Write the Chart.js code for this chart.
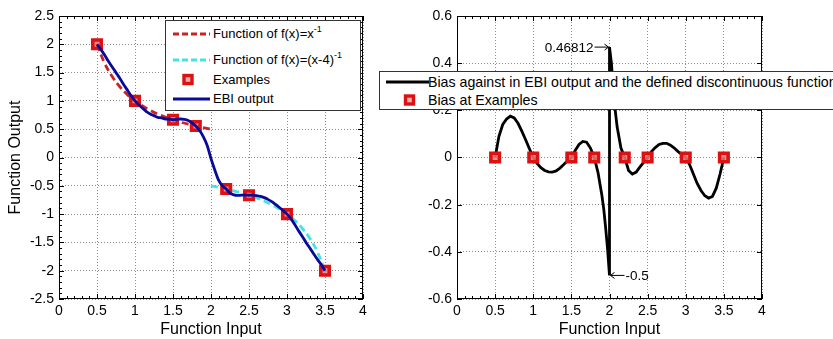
<!DOCTYPE html>
<html>
<head>
<meta charset="utf-8">
<script src="https://cdn.jsdelivr.net/npm/chart.js@4.4.0/dist/chart.umd.min.js"></script>
<style>
body { margin: 0; background: #fff; font-family: "Liberation Sans", Arial, sans-serif; }
#wrap { position: relative; width: 833px; height: 339px; overflow: hidden; }
#wrap canvas { position: absolute; top: 0; }
.legend { position: absolute; background: #fff; border: 1px solid #333; font-size: 13px; color: #000; z-index: 5; box-sizing: border-box; }
.row { position: absolute; left: 0; height: 18px; line-height: 18px; white-space: nowrap; }
.row svg { position: absolute; top: 0; }
.row span { position: absolute; top: 0; }
sup { font-size: 9px; vertical-align: 6px; line-height: 0; }
</style>
</head>
<body>
<div id="wrap">
  <canvas id="leftChart" width="413" height="339" style="left:0;width:413px;height:339px"></canvas>
  <canvas id="rightChart" width="420" height="339" style="left:413px;width:420px;height:339px"></canvas>

  <div class="legend" style="left:165px;top:20px;width:196px;height:91px">
    <div class="row" style="top:4px">
      <svg width="40" height="18" style="left:6px"><line x1="1" y1="9" x2="38" y2="9" stroke="#cc2222" stroke-width="3" stroke-dasharray="6,3"/></svg>
      <span style="left:47px">Function of f(x)=x<sup>-1</sup></span>
    </div>
    <div class="row" style="top:30px">
      <svg width="40" height="18" style="left:6px"><line x1="1" y1="9" x2="38" y2="9" stroke="#44e4e4" stroke-width="3" stroke-dasharray="6,3"/></svg>
      <span style="left:47px">Function of f(x)=(x-4)<sup>-1</sup></span>
    </div>
    <div class="row" style="top:50px">
      <svg width="40" height="18" style="left:6px"><rect x="12" y="4.5" width="8" height="8" fill="#f7b0b0" stroke="#dd1111" stroke-width="3.4"/></svg>
      <span style="left:47px">Examples</span>
    </div>
    <div class="row" style="top:69px">
      <svg width="40" height="18" style="left:6px"><line x1="1" y1="9" x2="38" y2="9" stroke="#0a0a9a" stroke-width="3"/></svg>
      <span style="left:47px">EBI output</span>
    </div>
  </div>

  <div class="legend" style="left:379px;top:71px;width:480px;height:39px;font-size:14.2px">
    <div class="row" style="top:1px">
      <svg width="46" height="18" style="left:5px"><line x1="1" y1="9" x2="44" y2="9" stroke="#000" stroke-width="3"/></svg>
      <span style="left:48px">Bias against in EBI output and the defined discontinuous function</span>
    </div>
    <div class="row" style="top:19px">
      <svg width="46" height="18" style="left:5px"><rect x="20.5" y="5" width="8" height="8" fill="#f7b0b0" stroke="#dd1111" stroke-width="3.4"/></svg>
      <span style="left:48px">Bias at Examples</span>
    </div>
  </div>
</div>

<script>
// f(x)=1/x
const f1X = [0.5, 0.6, 0.7, 0.8, 0.9, 1.0, 1.1, 1.2, 1.3, 1.4, 1.5, 1.6, 1.7, 1.8, 1.9, 2.0];
const f1Y = [2.0, 1.667, 1.429, 1.25, 1.111, 1.0, 0.909, 0.833, 0.769, 0.714, 0.667, 0.625, 0.588, 0.556, 0.526, 0.5];

// f(x)=1/(x-4), cyan dashed curve
const f2X = [2.0, 2.1, 2.2, 2.3, 2.4, 2.5, 2.6, 2.7, 2.8, 2.9, 3.0, 3.1, 3.2, 3.3, 3.4, 3.5];
const f2Y = [-0.5, -0.526, -0.556, -0.588, -0.625, -0.667, -0.714, -0.769, -0.833, -0.909, -1.0, -1.111, -1.25, -1.429, -1.667, -2.0];

// training examples
const exX = [0.5, 1.0, 1.5, 1.8, 2.2, 2.5, 3.0, 3.5];
const exY = [2.0, 1.0, 0.667, 0.556, -0.556, -0.667, -1.0, -2.0];
const exBias = [0, 0, 0, 0, 0, 0, 0, 0];

// EBI output (blue curve)
const ebiX = [0.5, 0.55, 0.6, 0.65, 0.7, 0.75, 0.8, 0.85, 0.9, 0.95, 1.0, 1.05, 1.1, 1.15, 1.2, 1.25, 1.3, 1.35, 1.4, 1.45,
  1.5, 1.55, 1.6, 1.65, 1.7, 1.75, 1.8, 1.85, 1.9, 1.95, 2.0, 2.05, 2.1, 2.15, 2.2, 2.25, 2.3, 2.35, 2.4, 2.45,
  2.5, 2.55, 2.6, 2.65, 2.7, 2.75, 2.8, 2.85, 2.9, 2.95, 3.0, 3.05, 3.1, 3.15, 3.2, 3.25, 3.3, 3.35, 3.4, 3.45, 3.5];
const ebiY = [2.0, 1.91, 1.81, 1.70, 1.60, 1.50, 1.40, 1.29, 1.19, 1.09, 1.0, 0.93, 0.87, 0.81, 0.77, 0.74, 0.71, 0.70, 0.68, 0.68,
  0.667, 0.675, 0.68, 0.674, 0.653, 0.61, 0.556, 0.476, 0.366, 0.213, -0.02, -0.22, -0.40, -0.50, -0.556, -0.63, -0.66, -0.67, -0.665, -0.665,
  -0.667, -0.665, -0.672, -0.686, -0.709, -0.74, -0.78, -0.83, -0.884, -0.94, -1.0, -1.08, -1.18, -1.29, -1.39, -1.50, -1.60, -1.70, -1.80, -1.89, -2.0];

// bias of EBI output against the discontinuous function (black curve)
const biasX = [0.5, 0.55, 0.6, 0.65, 0.7, 0.75, 0.8, 0.85, 0.9, 0.95, 1.0, 1.05, 1.1, 1.15, 1.2, 1.25, 1.3, 1.35, 1.4, 1.45,
  1.5, 1.55, 1.6, 1.65, 1.7, 1.75, 1.8, 1.85, 1.9, 1.925, 1.95, 1.975, 2.0, 2.0, 2.025, 2.05, 2.075, 2.1, 2.15, 2.2,
  2.25, 2.3, 2.35, 2.4, 2.45, 2.5, 2.55, 2.6, 2.65, 2.7, 2.75, 2.8, 2.85, 2.9, 2.95, 3.0, 3.05, 3.1, 3.15, 3.2,
  3.25, 3.3, 3.35, 3.4, 3.45, 3.5];
const biasY = [0, 0.09, 0.14, 0.163, 0.175, 0.168, 0.145, 0.112, 0.075, 0.037, 0, -0.025, -0.043, -0.055, -0.061, -0.062, -0.057, -0.045, -0.03, -0.014,
  0, 0.03, 0.055, 0.068, 0.065, 0.04, 0, -0.065, -0.16, -0.22, -0.3, -0.39, -0.5, 0.46812, 0.40, 0.29, 0.2, 0.13, 0.04, 0,
  -0.055, -0.07, -0.062, -0.04, -0.02, 0, 0.025, 0.042, 0.055, 0.06, 0.06, 0.052, 0.04, 0.025, 0.012, 0,
  -0.03, -0.07, -0.11, -0.14, -0.162, -0.172, -0.165, -0.13, -0.07, 0];

// tick settings
const xTicks = { min: 0, max: 4, step: 0.5, minor: 0.1 };
const yTicksLeft = { min: -2.5, max: 2.5, step: 0.5, minor: 0.1 };
const yTicksRight = { min: -0.6, max: 0.6, step: 0.2, minor: 0 };

// extra notes on the bias plot
const noteX = [2, 2];
const noteY = [0.46812, -0.5];
const noteText = ['0.46812', '-0.5'];
const noteSide = ['left', 'right'];

const pts = (xs, ys) => xs.map((x, i) => ({ x: x, y: ys[i] }));
const FONT = "'Liberation Sans', Arial, sans-serif";
const fmt = v => String(+(+v).toFixed(1));

// MATLAB-like frame: black box and small inward ticks on all sides
const framePlugin = {
    id: 'frame',
    afterDatasetsDraw(chart, args, opts) {
        const { ctx, chartArea: a, scales } = chart;
        ctx.save();
        ctx.strokeStyle = '#000';
        ctx.lineWidth = 1;
        ctx.strokeRect(a.left + 0.5, a.top + 0.5, a.right - a.left - 1, a.bottom - a.top - 1);
        const marks = (scale, step, len) => {
            if (!step) return;
            const n = Math.round((scale.max - scale.min) / step);
            for (let i = 0; i <= n; i++) {
                const v = scale.min + i * step;
                const p = Math.round(scale.getPixelForValue(v)) + 0.5;
                ctx.beginPath();
                if (scale.axis === 'x') {
                    ctx.moveTo(p, a.bottom); ctx.lineTo(p, a.bottom - len);
                    ctx.moveTo(p, a.top); ctx.lineTo(p, a.top + len);
                } else {
                    ctx.moveTo(a.left, p); ctx.lineTo(a.left + len, p);
                    ctx.moveTo(a.right, p); ctx.lineTo(a.right - len, p);
                }
                ctx.stroke();
            }
        };
        marks(scales.x, opts.xMinor, 3);
        marks(scales.y, opts.yMinor, 3);
        marks(scales.x, opts.xMajor, 5);
        marks(scales.y, opts.yMajor, 5);
        ctx.restore();
    }
};

// value labels with arrows next to the spike
const notePlugin = {
    id: 'notes',
    afterDraw(chart, args, opts) {
        if (!opts.show) return;
        const { ctx, scales } = chart;
        ctx.save();
        ctx.font = '13.5px ' + FONT;
        ctx.fillStyle = '#000';
        ctx.strokeStyle = '#000';
        ctx.lineWidth = 1;
        ctx.textBaseline = 'middle';
        noteText.forEach((t, i) => {
            const px = scales.x.getPixelForValue(noteX[i]);
            const py = scales.y.getPixelForValue(noteY[i]);
            const dir = noteSide[i] === 'left' ? -1 : 1;
            const tail = px + dir * 15;
            ctx.beginPath();
            ctx.moveTo(tail, py); ctx.lineTo(px + dir * 1, py);
            ctx.moveTo(px + dir * 5, py - 3); ctx.lineTo(px + dir * 1, py); ctx.lineTo(px + dir * 5, py + 3);
            ctx.stroke();
            ctx.textAlign = dir < 0 ? 'right' : 'left';
            ctx.fillText(t, tail + dir * 1, py + 1);
        });
        ctx.restore();
    }
};

function axes(yt, yTitle, yWidth) {
    const grid = { color: '#8c8c8c', lineWidth: 1, drawTicks: false };
    const border = { display: false, dash: [1, 2] };
    const tickFont = { family: FONT, size: 14 };
    return {
        x: {
            type: 'linear', min: xTicks.min, max: xTicks.max,
            grid: grid, border: border,
            ticks: { stepSize: xTicks.step, autoSkip: false, padding: 4, color: '#000', font: tickFont, maxRotation: 0, callback: fmt },
            title: { display: true, text: 'Function Input', color: '#000', font: { family: FONT, size: 16 }, padding: { top: 0, bottom: 0 } },
            afterFit: s => { s.height = 40; }
        },
        y: {
            type: 'linear', min: yt.min, max: yt.max,
            grid: grid, border: border,
            ticks: { stepSize: yt.step, autoSkip: false, padding: 5, color: '#000', font: tickFont, callback: fmt },
            title: { display: !!yTitle, text: yTitle, color: '#000', font: { family: FONT, size: 16 }, padding: { top: 6, bottom: 0 } },
            afterFit: s => { s.width = yWidth; }
        }
    };
}

const lineDs = (data, color, dash, order, tension) => ({
    data: data, showLine: true, borderColor: color, borderWidth: 2.8, borderDash: dash,
    pointRadius: 0, tension: tension, fill: false, order: order
});

const markerDs = (data, order) => ({
    data: data, showLine: false, pointStyle: 'rect', pointRadius: 6,
    pointBorderColor: '#dd1111', pointBackgroundColor: 'rgba(240,120,120,0.85)', pointBorderWidth: 3.6, order: order
});

new Chart(document.getElementById('leftChart'), {
    type: 'scatter',
    data: {
        datasets: [
            lineDs(pts(f1X, f1Y), '#cc2222', [7, 4], 3, 0.4),
            lineDs(pts(f2X, f2Y), '#44e4e4', [7, 4], 2, 0.4),
            markerDs(pts(exX, exY), 1),
            lineDs(pts(ebiX, ebiY), '#0a0a9a', [], 0, 0.3)
        ]
    },
    options: {
        responsive: false, animation: false,
        layout: { padding: { left: 0, top: 16, right: 50, bottom: 0 } },
        plugins: {
            legend: { display: false }, tooltip: { enabled: false },
            frame: { xMajor: 0.5, yMajor: 0.5, xMinor: xTicks.minor, yMinor: yTicksLeft.minor },
            notes: { show: false }
        },
        scales: axes(yTicksLeft, 'Function Output', 59)
    },
    plugins: [framePlugin, notePlugin]
});

new Chart(document.getElementById('rightChart'), {
    type: 'scatter',
    data: {
        datasets: [
            lineDs(pts(biasX, biasY), '#000', [], 1, 0),
            markerDs(pts(exX, exBias), 0)
        ]
    },
    options: {
        responsive: false, animation: false,
        layout: { padding: { left: 0, top: 16, right: 71, bottom: 0 } },
        plugins: {
            legend: { display: false }, tooltip: { enabled: false },
            frame: { xMajor: 0.5, yMajor: 0.2, xMinor: xTicks.minor, yMinor: yTicksRight.minor },
            notes: { show: true }
        },
        scales: axes(yTicksRight, '', 44)
    },
    plugins: [framePlugin, notePlugin]
});
</script>
</body>
</html>
